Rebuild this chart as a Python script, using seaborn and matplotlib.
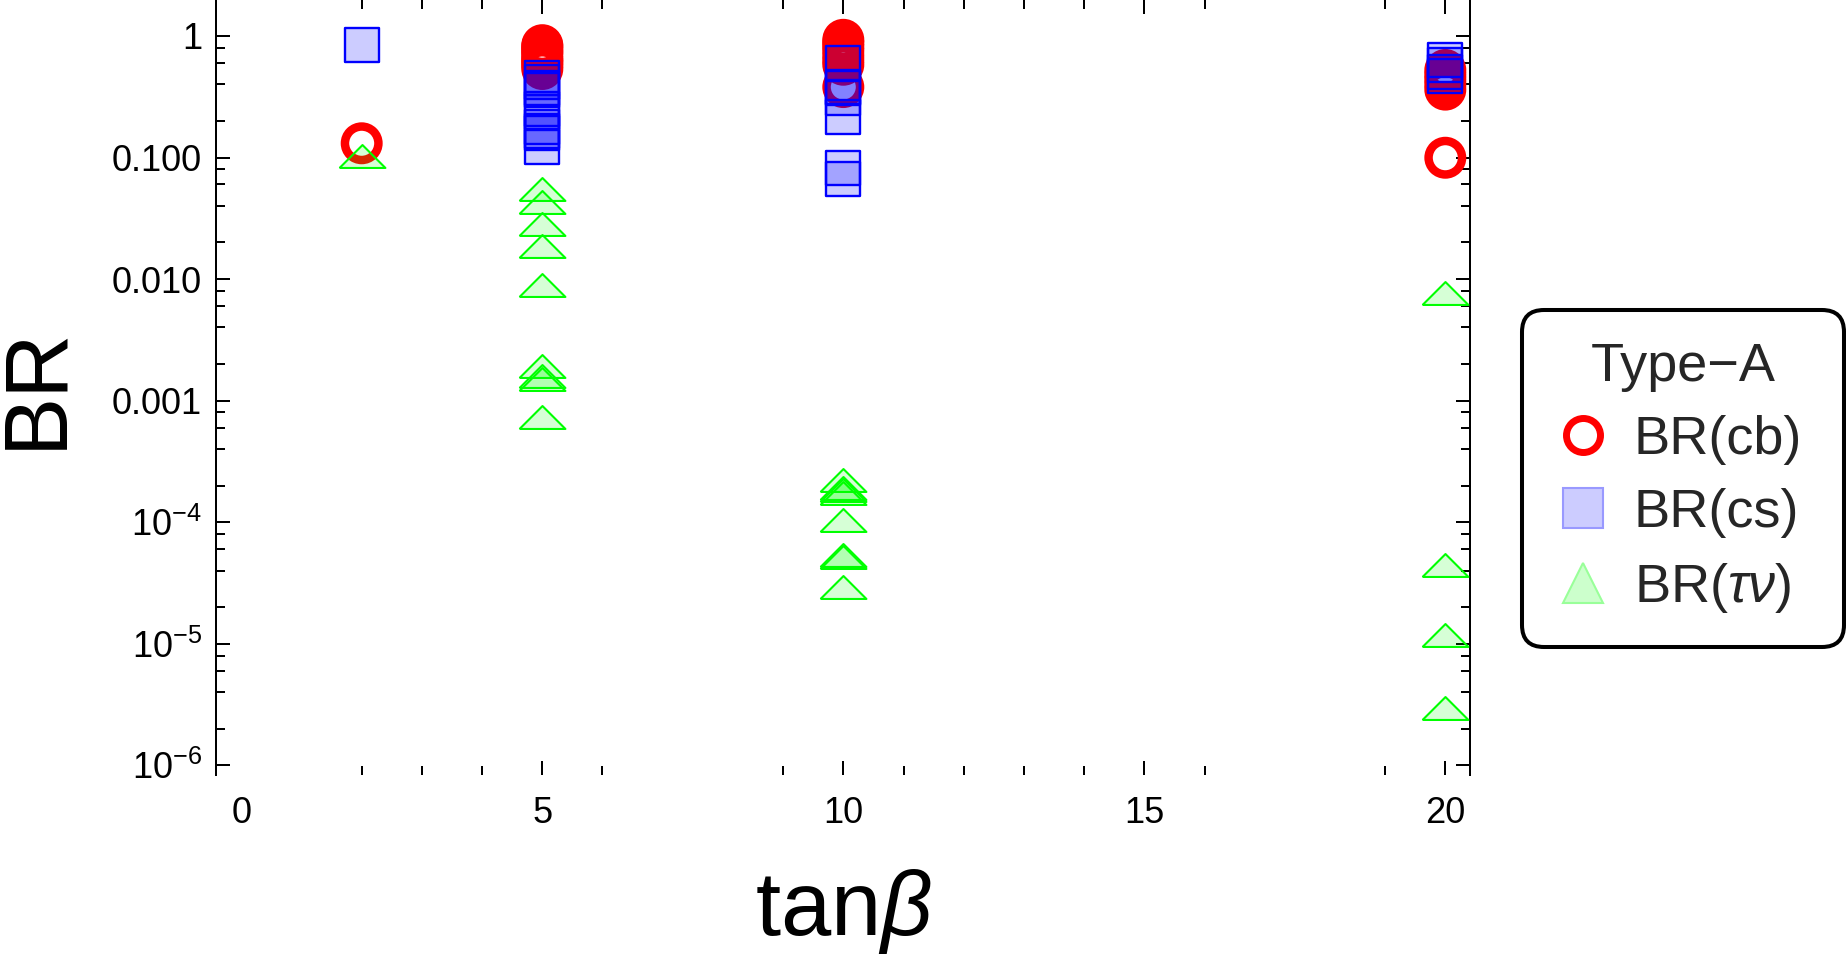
import numpy as np
import pandas as pd
import matplotlib
matplotlib.use("Agg")
import matplotlib.pyplot as plt
import seaborn as sns
from matplotlib.lines import Line2D
from matplotlib.ticker import FixedLocator, FixedFormatter, LogLocator, NullFormatter

# ---------------- data ----------------
cb_tanb = [2,
           5, 5, 5, 5, 5, 5, 5, 5, 5, 5,
           10, 10, 10, 10, 10, 10, 10, 10,
           20, 20, 20, 20, 20, 20]
cb_values = [0.131,
             0.84, 0.82, 0.77, 0.74, 0.70, 0.65, 0.63, 0.60, 0.57, 0.535,
             0.93, 0.88, 0.82, 0.76, 0.69, 0.63, 0.58, 0.38,
             0.525, 0.48, 0.44, 0.40, 0.362, 0.0996]

cs_tanb = [2,
           5, 5, 5, 5, 5, 5, 5, 5, 5, 5,
           10, 10, 10, 10, 10, 10, 10,
           20, 20, 20, 20]
cs_values = [0.84,
             0.447, 0.42, 0.375, 0.358, 0.25, 0.235, 0.179, 0.165, 0.158, 0.123,
             0.594, 0.382, 0.37, 0.306, 0.215, 0.0813, 0.066,
             0.632, 0.575, 0.508, 0.465]

taunu_tanb = [2,
              5, 5, 5, 5, 5, 5, 5, 5, 5,
              10, 10, 10, 10, 10, 10, 10, 10,
              20, 20, 20, 20]
taunu_values = [0.103,
                0.0548, 0.0434, 0.0283, 0.0188, 0.00889, 0.00193, 0.0016, 0.00152, 0.000736,
                2.23e-4, 1.92e-4, 1.83e-4, 1.74e-4, 1.05e-4, 5.4e-5, 5.2e-5, 2.92e-5,
                0.00773, 4.44e-5, 1.17e-5, 2.98e-6]

x_major_ticks = [0, 5, 10, 15, 20]
x_major_labels = ["0", "5", "10", "15", "20"]
x_minor_ticks = [2, 3, 4, 6, 9, 11, 12, 13, 14, 16, 19]
y_major_ticks = [1, 0.1, 0.01, 0.001, 1e-4, 1e-5, 1e-6]
y_major_labels = ["1", "0.100", "0.010", "0.001",
                  r"$10^{-4}$", r"$10^{-5}$", r"$10^{-6}$"]

legend_title = "Type\u2212A"
legend_labels = ["BR(cb)", "BR(cs)", r"BR($\mathit{\tau\nu}$)"]

# ---------------- style ----------------
sns.set_style("white")
plt.rcParams['font.family'] = ['Liberation Sans', 'DejaVu Sans']
plt.rcParams['mathtext.fontset'] = 'custom'
plt.rcParams['mathtext.rm'] = 'Liberation Sans'
plt.rcParams['mathtext.it'] = 'Liberation Sans:italic'
plt.rcParams['mathtext.default'] = 'regular'

W, H = 1846, 958
fig = plt.figure(figsize=(W / 100, H / 100), dpi=100)
ax_l, ax_r, ax_t, ax_b = 216, 1470, 0, 775
ax = fig.add_axes([ax_l / W, 1 - ax_b / H, (ax_r - ax_l) / W, (ax_b - ax_t) / H])

df_cb = pd.DataFrame({"tanb": cb_tanb, "BR": cb_values})
df_cs = pd.DataFrame({"tanb": cs_tanb, "BR": cs_values})
df_tn = pd.DataFrame({"tanb": taunu_tanb, "BR": taunu_values})

# red open circles
sns.scatterplot(data=df_cb, x="tanb", y="BR", marker="o", s=581, ax=ax,
                legend=False, zorder=3)
c = ax.collections[-1]
c.set_facecolor("none")
c.set_edgecolor((1, 0, 0))
c.set_linewidth(6.1)

# blue squares
sns.scatterplot(data=df_cs, x="tanb", y="BR", marker="s", s=635, ax=ax,
                legend=False, zorder=4)
c = ax.collections[-1]
c.set_facecolor((0, 0, 1, 0.2))
c.set_edgecolor((0, 0, 1))
c.set_linewidth(1.7)

# green flat triangles
tri = [(-1, -0.5), (1, -0.5), (0, 0.5), (-1, -0.5)]
sns.scatterplot(data=df_tn, x="tanb", y="BR", marker=tri, s=1090, ax=ax,
                legend=False, zorder=5)
c = ax.collections[-1]
c.set_facecolor((0, 1, 0, 0.16))
c.set_edgecolor((0, 1, 0))
c.set_linewidth(1.5)

# ---------------- axes ----------------
ax.set_yscale("log")
ax.set_xlim(-0.42, 20.41)
ax.set_ylim(8.32e-7, 1.977)

ax.xaxis.set_major_locator(FixedLocator(x_major_ticks))
ax.xaxis.set_major_formatter(FixedFormatter(x_major_labels))
ax.xaxis.set_minor_locator(FixedLocator(x_minor_ticks))
ax.yaxis.set_major_locator(FixedLocator(y_major_ticks))
ax.yaxis.set_major_formatter(FixedFormatter(y_major_labels))
ax.yaxis.set_minor_locator(LogLocator(base=10, subs=(2, 4, 6, 8), numticks=40))
ax.yaxis.set_minor_formatter(NullFormatter())

for s in ["top", "bottom"]:
    ax.spines[s].set_visible(False)
for s in ["left", "right"]:
    ax.spines[s].set_visible(True)
    ax.spines[s].set_linewidth(1.44)
    ax.spines[s].set_color("black")

ax.tick_params(which="both", direction="in", top=True, bottom=True, left=True,
               right=True, labeltop=False, labelright=False, width=1.44,
               color="black", labelsize=26, labelcolor="black")
ax.tick_params(which="major", length=10)
ax.tick_params(which="minor", length=6.8)
ax.tick_params(axis="y", which="major", pad=10)
ax.tick_params(axis="x", which="major", pad=15)
ax.grid(False)

t0 = ax.xaxis.get_major_ticks()[0]
t0.tick1line.set_visible(False)
t0.tick2line.set_visible(False)

ax.set_xlabel(r"tan$\mathit{\beta}$", fontsize=65, color="black")
ax.xaxis.label.set_va("center")
ax.xaxis.set_label_coords(0.5, -(912 - ax_b) / (ax_b - ax_t))
ax.set_ylabel("BR", fontsize=64, color="black")
ax.yaxis.label.set_va("center")
ax.yaxis.label.set_ha("center")
ax.yaxis.set_label_coords((37 - ax_l) / (ax_r - ax_l), (ax_b - 387) / (ax_b - ax_t))

# ---------------- legend ----------------
handles = [
    Line2D([], [], ls="none", marker="o", ms=24.5, mfc="none", mec=(1, 0, 0), mew=5),
    Line2D([], [], ls="none", marker="s", ms=28.8, mfc=(0.8, 0.8, 1), mec=(0.6, 0.6, 1), mew=1.5),
    Line2D([], [], ls="none", marker="^", ms=28.8, mfc=(0.8, 1, 0.8), mec=(0.6, 1, 0.6), mew=1.5),
]
box_l, box_r, box_t, box_b = 1522, 1844, 306, 651
leg = fig.legend(handles, legend_labels, title=legend_title, loc="center",
                 bbox_to_anchor=(box_l / W, 1 - box_b / H,
                                 (box_r - box_l) / W, (box_b - box_t) / H),
                 mode="expand", fontsize=39,
                 title_fontsize=39, frameon=True, fancybox=True,
                 edgecolor="black", framealpha=1, borderpad=0.6,
                 labelspacing=0.42, handlelength=1.07, handletextpad=0.39,
                 borderaxespad=0)
leg.get_frame().set_linewidth(2.9)
leg.get_frame().set_boxstyle("round", pad=0, rounding_size=0.4)

fig.savefig("out.png", dpi=100)
